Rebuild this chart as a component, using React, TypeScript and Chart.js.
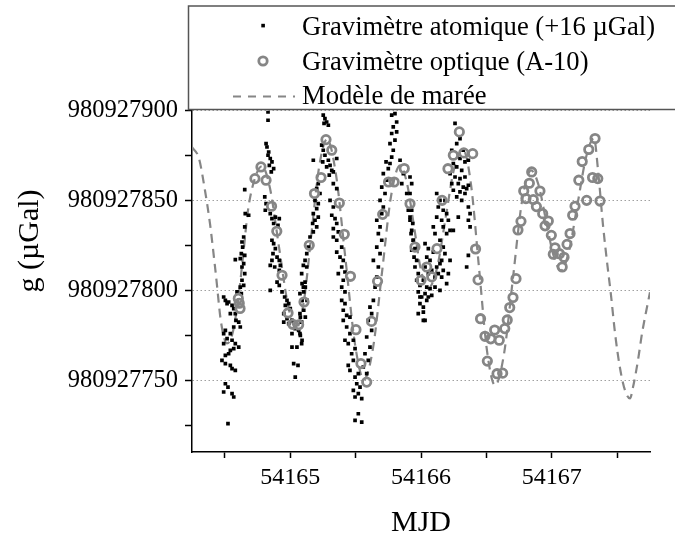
import React, { useEffect, useRef } from "react";
import { Chart, registerables } from "chart.js";

Chart.register(...registerables);

// g values are stored as offsets (µGal) from this base
const G_BASE = 980927000;

const X_MIN = 54164.25;
const X_MAX = 54167.75;
const Y_MIN = 710;
const Y_MAX = 900;
const X_TICKS = [54164.5, 54165, 54165.5, 54166, 54166.5, 54167, 54167.5];
const Y_TICKS = [725, 750, 775, 800, 825, 850, 875, 900];

const X_TITLE = "MJD";
const Y_TITLE = "g (µGal)";
const LEGEND_LABELS = [
  "Gravimètre atomique (+16 µGal)",
  "Gravimètre optique (A-10)",
  "Modèle de marée",
];

// Atomic gravimeter (+16 µGal): [MJD, g - G_BASE]
const ATOMIC: [number, number][] = [
  [54164.831, 899.3], [54164.831, 894.7], [54164.816, 881.7], [54164.823, 879.8], [54164.836, 877], [54164.831, 875.2],
  [54164.848, 873.4], [54164.861, 871.5], [54164.841, 869.6], [54164.874, 867.8], [54164.856, 865.9], [54164.653, 856.1],
  [54164.806, 852], [54164.816, 848.3], [54164.81, 844.6], [54164.848, 842.7], [54164.861, 839.9], [54164.887, 840.8],
  [54164.874, 837.2], [54164.907, 836.2], [54164.917, 839.9], [54164.657, 842.7], [54164.683, 841.8],
  [54164.653, 835.3], [54164.645, 829.7], [54164.632, 826.9], [54164.637, 824.1], [54164.627, 820.4], [54164.653, 819.5],
  [54164.619, 817.7], [54164.581, 817.1], [54164.645, 814.9], [54164.632, 813], [54164.653, 809.3], [54164.632, 805.6],
  [54164.645, 802.8], [54164.619, 801.8], [54164.627, 798.2], [54164.594, 799.1],
  [54164.861, 827.9], [54164.874, 826], [54164.887, 823.2], [54164.869, 820.4], [54164.9, 818.5], [54164.917, 816.7],
  [54164.861, 816.7], [54164.848, 813.9], [54164.882, 813], [54164.925, 813.9], [54164.917, 811.1], [54164.848, 800],
  [54164.9, 804.6], [54164.917, 802.8], [54164.938, 799.1], [54164.958, 796.3], [54164.976, 794.4], [54164.963, 791.6],
  [54164.989, 792.6], [54165.001, 789.8], [54164.951, 787], [54164.976, 784.2], [54165.014, 783.3], [54164.989, 781.5],
  [54164.951, 782.3], [54165.039, 778.7], [54165.014, 775.9], [54165.065, 777.7], [54165.078, 774.9], [54165.091, 772.2],
  [54165.014, 768.4], [54165.052, 768.4], [54165.027, 759.2], [54165.06, 758.2], [54165.039, 751.7],
  [54164.492, 796.3], [54164.505, 794.4], [54164.518, 792.6], [54164.53, 793.5], [54164.556, 791.6], [54164.569, 789.8],
  [54164.581, 787], [54164.543, 787], [54164.586, 783.3], [54164.607, 782.3], [54164.619, 779.6], [54164.569, 779.6],
  [54164.505, 777.7], [54164.492, 775.9], [54164.543, 775.9], [54164.518, 773.1], [54164.492, 770.3], [54164.556, 772.2],
  [54164.581, 770.3], [54164.569, 767.5], [54164.543, 766.6], [54164.607, 768.4], [54164.53, 764.7], [54164.505, 763.8],
  [54164.479, 761], [54164.505, 759.2], [54164.543, 758.2], [54164.556, 756.4], [54164.581, 755.4], [54164.505, 748],
  [54164.525, 746.1], [54164.492, 743.4], [54164.556, 742.5], [54164.569, 740.6], [54164.525, 725.8],
  [54165.091, 803.7], [54165.116, 801.8], [54165.104, 799.1], [54165.129, 794.4], [54165.091, 794.4], [54165.104, 788.9],
  [54165.078, 785.1], [54165.116, 785.1],
  [54165.253, 897.5], [54165.266, 895.6], [54165.279, 893.7], [54165.259, 892.9], [54165.292, 891.9], [54165.241, 880.8],
  [54165.253, 878], [54165.266, 875.2], [54165.292, 872.4], [54165.249, 871.5], [54165.279, 868.7], [54165.305, 869.6],
  [54165.318, 866.8], [54165.33, 865.9], [54165.299, 864.1], [54165.356, 873.4], [54165.177, 872.4],
  [54165.215, 859.4], [54165.203, 856.6], [54165.228, 853.9], [54165.19, 850.1], [54165.215, 848.3], [54165.203, 845.5],
  [54165.177, 842.7], [54165.215, 840.8], [54165.19, 839], [54165.172, 837.2], [54165.203, 835.3], [54165.177, 832.5],
  [54165.152, 829.7], [54165.139, 824.1], [54165.127, 820.4], [54165.114, 816.7], [54165.101, 813.9], [54165.127, 813],
  [54165.088, 809.3], [54165.114, 804.6], [54165.101, 801.8], [54165.075, 798.2], [54165.088, 794.4], [54165.075, 787],
  [54165.088, 782.3], [54165.075, 775.9], [54165.088, 770.3],
  [54165.33, 859.4], [54165.356, 856.6], [54165.305, 850.1], [54165.33, 846.4], [54165.318, 841.8], [54165.343, 839.9],
  [54165.356, 837.2], [54165.33, 834.4], [54165.368, 832.5], [54165.33, 829.7], [54165.356, 827.9], [54165.394, 824.1],
  [54165.356, 821.3], [54165.381, 818.5], [54165.406, 816.7], [54165.394, 813], [54165.419, 810.2], [54165.368, 809.3],
  [54165.406, 805.6], [54165.394, 801.8], [54165.419, 799.1], [54165.394, 794.4], [54165.419, 792.6], [54165.406, 788.9],
  [54165.432, 786.1], [54165.406, 783.3], [54165.457, 785.1], [54165.432, 779.6], [54165.419, 772.2], [54165.457, 775.9],
  [54165.444, 770.3], [54165.483, 772.2], [54165.496, 767.5], [54165.47, 764.7], [54165.444, 758.2], [54165.457, 755.4],
  [54165.483, 761], [54165.496, 751.7], [54165.521, 753.6], [54165.509, 748], [54165.483, 744.3], [54165.521, 742.5],
  [54165.534, 746.1], [54165.496, 740.6], [54165.547, 739.7], [54165.521, 731.3], [54165.496, 727.6], [54165.547, 726.6],
  [54165.61, 790.7], [54165.636, 794.4], [54165.623, 787], [54165.597, 783.3], [54165.623, 777.7], [54165.585, 774],
  [54165.61, 768.4], [54165.572, 764.7], [54165.597, 761], [54165.559, 757.3], [54165.585, 753.6], [54165.662, 807.4],
  [54165.649, 801.8], [54165.674, 813], [54165.636, 816.7], [54165.687, 820.4], [54165.662, 824.1], [54165.7, 827.9],
  [54165.674, 831.6], [54165.687, 835.3], [54165.662, 839], [54165.7, 842.7], [54165.712, 846.4], [54165.687, 850.1],
  [54165.725, 853.9], [54165.7, 857.5], [54165.738, 861.3], [54165.712, 865], [54165.75, 867.8], [54165.763, 870.6],
  [54165.733, 871.5], [54165.776, 874.2], [54165.788, 878], [54165.763, 881.7], [54165.801, 883.6], [54165.776, 887.3],
  [54165.814, 888.2], [54165.788, 891], [54165.814, 893.7], [54165.776, 897.5], [54165.801, 898.4],
  [54165.84, 872.4], [54165.865, 865], [54165.853, 859.4], [54165.891, 853.9], [54165.903, 844.6], [54165.916, 839],
  [54165.929, 833.4], [54165.941, 827.9], [54165.954, 823.2],
  [54165.916, 863.1], [54165.929, 859.4], [54165.916, 853.9], [54165.929, 844.6], [54165.916, 840.8], [54165.937, 837.2],
  [54165.924, 831.6], [54165.941, 827.9], [54165.929, 822.3], [54165.947, 818.5], [54165.967, 816.7], [54165.954, 813],
  [54165.979, 809.3], [54165.967, 805.6], [54165.992, 802.8], [54165.979, 799.1], [54166.005, 796.3], [54165.992, 792.6],
  [54165.979, 787], [54166.018, 783.3],
  [54166.031, 826], [54166.056, 823.2], [54166.044, 818.5], [54166.069, 816.7], [54166.094, 821.3], [54166.031, 813],
  [54166.082, 811.1], [54166.056, 809.3], [54166.107, 807.4], [54166.12, 813], [54166.145, 814.9], [54166.132, 809.3],
  [54166.158, 807.4], [54166.018, 805.6], [54166.044, 801.8], [54166.069, 800.9], [54166.107, 801.8], [54166.031, 798.2],
  [54166.056, 796.3], [54166.082, 797.2], [54166.044, 794.4], [54165.992, 796.3], [54166.018, 790.7], [54166.018, 787.9],
  [54166.031, 783.3],
  [54166.094, 835.3], [54166.107, 831.6], [54166.12, 840.8], [54166.132, 846.4], [54166.145, 850.1], [54166.12, 853.9],
  [54166.17, 844.6], [54166.183, 850.1], [54166.158, 839], [54166.196, 842.7], [54166.209, 839], [54166.17, 835.3],
  [54166.196, 831.6], [54166.222, 833.4], [54166.247, 833.4], [54166.145, 827.9], [54166.17, 824.1], [54166.183, 820.4],
  [54166.158, 816.7], [54166.17, 811.1], [54166.145, 800], [54166.196, 803.7], [54166.209, 809.3], [54166.222, 816.7],
  [54166.26, 892.9], [54166.298, 884.5], [54166.273, 881.7], [54166.235, 878], [54166.298, 873.4], [54166.336, 871.5],
  [54166.247, 870.6], [54166.273, 868.7], [54166.311, 866.8], [54166.222, 865], [54166.26, 863.1], [54166.298, 862.2],
  [54166.336, 863.1], [54166.235, 859.4], [54166.285, 859.4], [54166.323, 857.5], [54166.247, 855.7], [54166.298, 854.8],
  [54166.349, 856.6], [54166.273, 852], [54166.311, 850.1], [54166.336, 853.9], [54166.362, 872.4], [54166.323, 878],
  [54166.362, 858.5], [54166.285, 840.8],
  [54166.362, 846.4], [54166.375, 842.7], [54166.362, 839], [54166.375, 835.3], [54166.362, 819.5], [54166.349, 813],
];

// Optical gravimeter (A-10): [MJD, g - G_BASE]
const OPTICAL: [number, number][] = [
  [54164.604, 795.5], [54164.611, 792.8], [54164.617, 789.9], [54164.731, 862.2], [54164.777, 868.7], [54164.816, 861.3],
  [54164.858, 846.8], [54164.898, 832.9], [54164.938, 808.4], [54164.984, 787.4], [54165.02, 781.1], [54165.065, 780.8],
  [54165.106, 793.5], [54165.146, 825.1], [54165.186, 853.9], [54165.236, 862.8], [54165.274, 883.9], [54165.318, 878],
  [54165.376, 848.6], [54165.414, 831.2], [54165.461, 807.8], [54165.503, 778.1], [54165.541, 759.2], [54165.585, 748.9],
  [54165.622, 782.7], [54165.668, 805], [54165.707, 842.3], [54165.752, 860.3], [54165.795, 860.3], [54165.872, 867.8],
  [54165.916, 848.2], [54165.954, 824.1], [54166.0, 805.6], [54166.044, 813], [54166.082, 807.5], [54166.122, 823.2],
  [54166.161, 850.1], [54166.206, 867.7], [54166.247, 875.2], [54166.293, 888.2], [54166.327, 876.5], [54166.395, 876.1],
  [54166.417, 823], [54166.436, 805.8], [54166.455, 784.2], [54166.489, 774.4], [54166.507, 760.6], [54166.533, 773],
  [54166.563, 777.9], [54166.581, 753.6], [54166.598, 772.2], [54166.624, 753.9], [54166.64, 778.7], [54166.659, 783.5],
  [54166.678, 790.4], [54166.703, 796], [54166.726, 806.5], [54166.741, 833.6], [54166.764, 838.4], [54166.785, 855.3],
  [54166.802, 851.1], [54166.828, 859.6], [54166.846, 865.9], [54166.858, 850.5], [54166.882, 846.6], [54166.909, 855.3],
  [54166.93, 842.7], [54166.948, 835.9], [54166.973, 838.6], [54166.996, 830.6], [54167.024, 823.7], [54167.011, 820.1],
  [54167.058, 820.4], [54167.079, 813], [54167.093, 818.4], [54167.116, 825.6], [54167.139, 831.6], [54167.159, 841.8],
  [54167.177, 846.8], [54167.206, 861.3], [54167.232, 871.7], [54167.266, 850.1], [54167.282, 878.4], [54167.311, 862.8],
  [54167.33, 884.5], [54167.351, 862.2], [54167.368, 849.7],
];

// Tide model: [MJD, g - G_BASE]
const MODEL: [number, number][] = [
  [54164.25, 879.7], [54164.303, 873.5], [54164.349, 855.7], [54164.388, 836.8], [54164.433, 808.4], [54164.472, 782.2],
  [54164.517, 770.5], [54164.556, 775], [54164.602, 794.4], [54164.64, 818.9], [54164.678, 844.6], [54164.731, 862.4],
  [54164.785, 869.1], [54164.846, 856.8], [54164.915, 824], [54164.984, 791.6], [54165.045, 778.8], [54165.106, 794.4],
  [54165.163, 831.7], [54165.221, 868.5], [54165.282, 884.1], [54165.35, 864.6], [54165.423, 817.3], [54165.496, 769.9],
  [54165.564, 750.4], [54165.633, 767.7], [54165.702, 810], [54165.771, 852.4], [54165.84, 869.6], [54165.893, 859.6],
  [54165.947, 835.4], [54166.0, 811.1], [54166.054, 801.1], [54166.122, 812.3], [54166.187, 839.8], [54166.252, 867.4],
  [54166.321, 878.5], [54166.382, 859], [54166.443, 812.8], [54166.504, 766.6], [54166.566, 747.1], [54166.634, 764.4],
  [54166.703, 807], [54166.772, 849.6], [54166.841, 866.8], [54166.898, 858.7], [54166.955, 839], [54167.013, 819.3],
  [54167.07, 811.1], [54167.131, 821.9], [54167.196, 847.9], [54167.261, 873.9], [54167.322, 884.7], [54167.353, 866.8],
  [54167.391, 836.2], [54167.422, 815.6], [54167.452, 797.2], [54167.483, 776], [54167.521, 756.6], [54167.559, 744.3],
  [54167.597, 739.8], [54167.62, 746], [54167.658, 761], [54167.689, 776], [54167.719, 787.7], [54167.75, 798.9],
];

const FONT = "'Liberation Serif', 'Times New Roman', serif";
const GRAY = "#868686";

const toXY = (pts: [number, number][]) => pts.map(([x, g]) => ({ x, y: G_BASE + g }));

const overlayPlugin = {
  id: "overlay",
  beforeDraw(chart: any) {
    const ctx = chart.ctx;
    ctx.save();
    ctx.fillStyle = "#fff";
    ctx.fillRect(0, 0, chart.width, chart.height);
    ctx.restore();
  },
  afterDraw(chart: any) {
    const ctx = chart.ctx as CanvasRenderingContext2D;
    ctx.save();
    // y-axis title
    ctx.translate(30, 241);
    ctx.rotate(-Math.PI / 2);
    ctx.font = `30px ${FONT}`;
    ctx.fillStyle = "#000";
    ctx.textAlign = "center";
    ctx.textBaseline = "middle";
    ctx.fillText(Y_TITLE, 0, 0);
    ctx.restore();

    // legend box
    ctx.save();
    ctx.fillStyle = "#fff";
    ctx.fillRect(188, 6, 500, 103.5);
    ctx.strokeStyle = "#555";
    ctx.lineWidth = 1.5;
    ctx.strokeRect(188.5, 6, 500, 103.5);
    ctx.font = `26.6px ${FONT}`;
    ctx.fillStyle = "#000";
    ctx.textAlign = "left";
    ctx.textBaseline = "alphabetic";
    const baselines = [34.5, 69.5, 104];
    LEGEND_LABELS.forEach((t, i) => ctx.fillText(t, 302, baselines[i]));
    // markers
    ctx.fillStyle = "#000";
    ctx.fillRect(261.3, 23.8, 3.6, 3.6);
    ctx.beginPath();
    ctx.arc(263, 61, 4.2, 0, Math.PI * 2);
    ctx.strokeStyle = GRAY;
    ctx.lineWidth = 2.8;
    ctx.stroke();
    ctx.beginPath();
    ctx.setLineDash([8, 7]);
    ctx.moveTo(233, 96.5);
    ctx.lineTo(295, 96.5);
    ctx.lineWidth = 2;
    ctx.stroke();
    ctx.restore();
  },
};

export default function App() {
  const ref = useRef<HTMLCanvasElement | null>(null);

  useEffect(() => {
    if (!ref.current) return;
    const chart = new Chart(ref.current, {
      type: "scatter",
      data: {
        datasets: [
          {
            label: LEGEND_LABELS[1],
            data: toXY(OPTICAL),
            pointStyle: "circle",
            pointRadius: 4.2,
            pointBorderWidth: 2.8,
            pointBorderColor: GRAY,
            pointBackgroundColor: "rgba(0,0,0,0)",
            showLine: false,
            order: 0,
          } as any,
          {
            label: LEGEND_LABELS[0],
            data: toXY(ATOMIC),
            pointStyle: "rect",
            pointRadius: 2.6,
            pointBorderWidth: 0,
            pointBackgroundColor: "#000",
            showLine: false,
            order: 1,
          } as any,
          {
            label: LEGEND_LABELS[2],
            data: toXY(MODEL),
            showLine: true,
            pointRadius: 0,
            borderColor: GRAY,
            borderWidth: 2.2,
            borderDash: [9, 6],
            cubicInterpolationMode: "monotone",
            fill: false,
            order: 2,
          } as any,
        ],
      },
      options: {
        responsive: false,
        animation: false,
        devicePixelRatio: 1,
        layout: { padding: { top: 110.7, right: 25, bottom: 0, left: 0 } },
        plugins: { legend: { display: false }, tooltip: { enabled: false } },
        scales: {
          x: {
            type: "linear",
            min: X_MIN,
            max: X_MAX,
            afterBuildTicks: (s: any) => {
              s.ticks = X_TICKS.map((v) => ({ value: v }));
            },
            afterFit: (s: any) => {
              s.height = 86;
            },
            ticks: {
              autoSkip: false,
              maxRotation: 0,
              padding: 5,
              color: "#000",
              font: { family: FONT, size: 24 },
              callback: (v: any) => (Number.isInteger(Number(v)) ? String(v) : ""),
            },
            grid: { drawOnChartArea: false, tickLength: 6, tickColor: "#000", tickWidth: 1.5 },
            border: { color: "#000", width: 1.5 },
            title: {
              display: true,
              text: X_TITLE,
              color: "#000",
              font: { family: FONT, size: 30, lineHeight: 1 },
              padding: { top: 0, bottom: 0 },
            },
          },
          y: {
            type: "linear",
            min: G_BASE + Y_MIN,
            max: G_BASE + Y_MAX,
            afterBuildTicks: (s: any) => {
              s.ticks = Y_TICKS.map((v) => ({ value: G_BASE + v }));
            },
            afterFit: (s: any) => {
              s.width = 192;
            },
            ticks: {
              autoSkip: false,
              padding: 7,
              color: "#000",
              font: { family: FONT, size: 24.5 },
              callback: (v: any) => ((Number(v) - G_BASE) % 50 === 0 ? String(v) : ""),
            },
            grid: {
              color: (c: any) =>
                c.tick && (c.tick.value - G_BASE) % 50 === 0 ? "#a0a0a0" : "rgba(0,0,0,0)",
              lineWidth: 1,
              tickLength: 7,
              tickColor: "#000",
              tickWidth: 1.5,
            },
            border: { color: "#000", width: 1.5, dash: [1.5, 2.5] },
          },
        },
      } as any,
      plugins: [overlayPlugin],
    });
    return () => chart.destroy();
  }, []);

  return (
    <div style={{ position: "absolute", left: 0, top: 0, width: 675, height: 538, background: "#fff" }}>
      <canvas ref={ref} width={675} height={538} style={{ display: "block", width: 675, height: 538 }} />
    </div>
  );
}
